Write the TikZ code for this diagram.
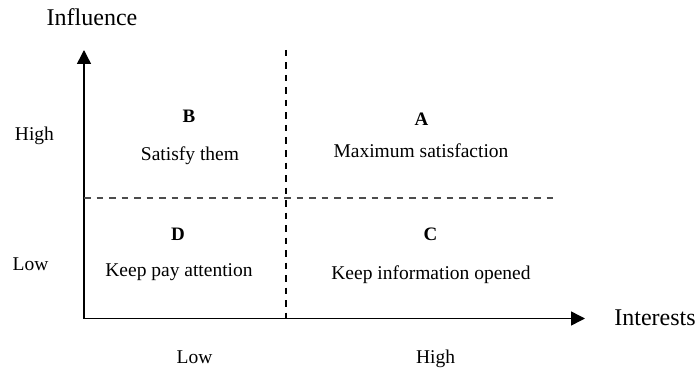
\documentclass[tikz,border=0pt]{standalone}
\usepackage{amsmath,amssymb,graphicx}
\usepackage{fontspec}
\setmainfont{Liberation Serif}
\usetikzlibrary{arrows.meta}

\tikzset{
  axis/.style={line width=1.5pt,-{Triangle[length=14pt,width=14pt]}},
  split/.style={line width=2pt,dash pattern=on 6.5pt off 6pt},
  title/.style={anchor=base,inner sep=0pt,font=\fontsize{24}{28}\selectfont},
  lbl/.style={anchor=base,inner sep=0pt,font=\fontsize{19.5}{23}\selectfont},
  tag/.style={anchor=base,inner sep=0pt,font=\fontsize{19}{23}\selectfont\bfseries}
}

\begin{document}
\begin{tikzpicture}[x=1pt,y=1pt]
        \useasboundingbox (0,0) rectangle (697,-369);
        % axes
        \coordinate (o) at (84,-318.5);
        \coordinate (ytip) at (84,-50);
        \coordinate (xtip) at (585,-318.5);
        \draw [axis] (o) -- (ytip);
        \draw [axis] (o) -- (xtip);
        \node [title] (influence) at (92,-26) {Influence};
        \node [title] (interests) at (655,-325) {Interests};
        % dividing lines
        \coordinate (vtop) at (286,-50);
        \coordinate (vbot) at (286,-318.5);
        \coordinate (hleft) at (84,-198.3);
        \coordinate (hright) at (558,-198.3);
        \draw [split,black] (vtop) -- (vbot);
        \draw [split,black!70] (hleft) -- (hright);
        % scale labels
        \node [lbl] (yhigh) at (34.5,-140) {High};
        \node [lbl] (ylow) at (30.5,-270) {Low};
        \node [lbl] (xlow) at (194.5,-363.5) {Low};
        \node [lbl] (xhigh) at (435.5,-363.5) {High};
        % quadrants
        \node [tag] (qb) at (189,-122.7) {B};
        \node [lbl] (qbtxt) at (190,-160.7) {Satisfy them};
        \node [tag] (qa) at (421.5,-125.3) {A};
        \node [lbl] (qatxt) at (421,-157.3) {Maximum satisfaction};
        \node [tag] (qd) at (178,-240) {D};
        \node [lbl] (qdtxt) at (179,-276.7) {Keep pay attention};
        \node [tag] (qc) at (430.5,-240.7) {C};
        \node [lbl] (qctxt) at (431,-279) {Keep information opened};
    \end{tikzpicture}
\end{document}
